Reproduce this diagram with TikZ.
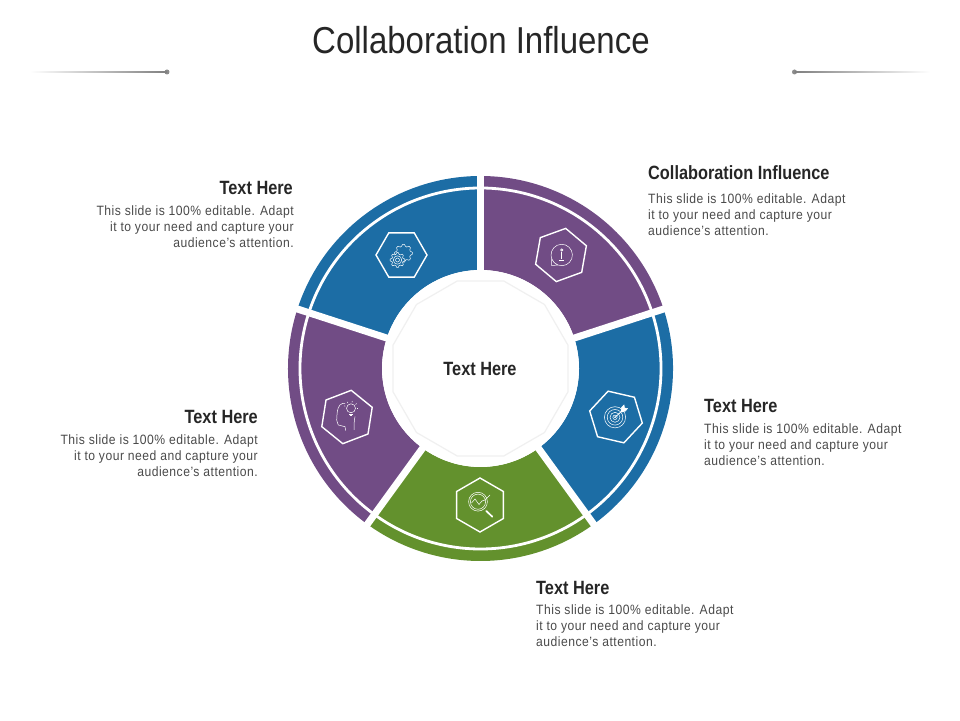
\documentclass[tikz,border=0pt]{standalone}
\usepackage{fontspec}
\setmainfont{Liberation Sans}
\usetikzlibrary{calc}
\usetikzlibrary{shapes.geometric}
\definecolor{bluewedge}{HTML}{1C6DA5}
\definecolor{purplewedge}{HTML}{714C85}
\definecolor{greenwedge}{HTML}{63912D}
\definecolor{inktext}{HTML}{262626}
\definecolor{bodytext}{HTML}{4A4A4A}
\newfontfamily\titlefont[FakeStretch=0.88]{Liberation Sans}
\newfontfamily\narrowfont[FakeStretch=0.85]{Liberation Sans}
\newfontfamily\bodyfont[FakeStretch=0.9,LetterSpace=3.6]{Liberation Sans}
\newcommand{\bodylines}{This slide is 100\% editable. Adapt\\it to your need and capture your\\audience’s attention.}
% one ring segment: start angle, end angle, colour
\newcommand{\ringpart}[3]{%
  \fill[#3] (#1:98.5) arc (#1:#2:98.5) -- (#2:192.5) arc (#2:#1:192.5) -- cycle;
  \draw[white,line width=2.8pt] (#1:180.5) arc (#1:#2:180.5);
}
% gear outline: centre, radius, colour behind it
\newcommand{\gearpart}[3]{%
  \draw[fill=#3,shift={(#1)}] plot[samples=65,domain=0:360] ({\x}:{#2+0.9*sign(cos(8*\x))}) -- cycle;
}
\begin{document}
\begin{tikzpicture}[x=1pt,y=1pt,
    headtext/.style={font=\narrowfont\bfseries\fontsize{19.2}{22}\selectfont,text=inktext,inner sep=0pt},
    bodyleft/.style={font=\bodyfont\fontsize{13.5}{16}\selectfont,text=bodytext,align=left,inner sep=0pt,anchor=north west},
    bodyright/.style={font=\bodyfont\fontsize{13.5}{16}\selectfont,text=bodytext,align=right,inner sep=0pt,anchor=north east},
    hexa/.style={regular polygon,regular polygon sides=6,draw=white,line width=1.4pt,minimum size=54pt,inner sep=0pt},
    iconline/.style={draw=white,line width=.5pt},
    gapline/.style={draw=white,line width=7pt},
    enddot/.style={circle,fill=gray!90,inner sep=0pt,minimum size=5pt}]
  \useasboundingbox (0,0) rectangle (960,720);
  \coordinate (center) at (480.5,351.5);

  % ring
  \begin{scope}[shift={(center)}]
    \ringpart{18}{90}{purplewedge}
    \ringpart{-54}{18}{bluewedge}
    \ringpart{-126}{-54}{greenwedge}
    \ringpart{162}{234}{purplewedge}
    \ringpart{90}{162}{bluewedge}
    \foreach \ang in {18,90,162,234,306} {
      \coordinate (rim\ang) at (\ang:200);
      \draw[gapline] (0,0) -- (rim\ang);
    }
    \fill[white] (0,0) circle (98.5);
  \end{scope}
  \node[regular polygon,regular polygon sides=12,draw=black!6,line width=1.2pt,fill=white,minimum size=181pt,inner sep=0pt] (hub) at (center) {};
  \node[headtext] (hubtext) at (480,351.5) {Text Here};

  % hexagons
  \node[hexa,minimum size=51pt] (hexa1) at (401.5,465) {};
  \node[hexa,shape border rotate=20] (hexa2) at (561,465) {};
  \node[hexa,shape border rotate=-13] (hexa3) at (616,303) {};
  \node[hexa,shape border rotate=30] (hexa4) at (480,215) {};
  \node[hexa,shape border rotate=21] (hexa5) at (347,303) {};

  % gears
  \begin{scope}[shift={(hexa1.center)},iconline]
    \gearpart{2,1.7}{8}{bluewedge}
    \gearpart{-4,-5}{6.6}{bluewedge}
    \draw (-4,-5) circle (4.2);
    \draw (-4,-5) circle (2);
  \end{scope}

  % speech bubble
  \begin{scope}[shift={(hexa2.center)},iconline]
    \draw (0.7,0) ++(250:10.7) arc (250:-160:10.7) -- (-9.3,-10.5) -- cycle;
    \draw[line width=.7pt] (0.7,5) circle (1.1);
    \draw[line width=1.3pt] (0.7,2.5) -- (0.7,-4.5);
    \draw[line width=.7pt] (-1.8,-5.2) -- (3.2,-5.2);
  \end{scope}

  % target
  \begin{scope}[shift={(hexa3.center)},iconline]
    \foreach \rad in {2.2,5,7.8,10.6} {
      \draw (-1,-0.3) circle (\rad);
    }
    \fill[white] (-1,-0.3) circle (0.9);
    \draw[line width=.8pt] (-1,-0.3) -- (6,6);
    \draw[fill=white] (5,6) -- (5.5,9.5) -- (8,12) -- (8.5,9) -- (11.5,8.5) -- (9.5,6) -- (6,5) -- cycle;
  \end{scope}

  % magnifier
  \begin{scope}[shift={(hexa4.center)},iconline]
    \draw (-2,3.3) circle (9.4);
    \draw (-2,3.3) circle (7.6);
    \draw (-8.5,2) -- (-5,6) -- (-1,0.5) -- (2,4) -- (5,5) -- (10,10);
    \draw[line width=1.7pt,line cap=round] (6.3,-6) -- (12.3,-11.7);
  \end{scope}

  % head with bulb
  \begin{scope}[shift={(hexa5.center)},iconline]
    \draw (-1.3,-13.7) -- (-2,-9.7) -- (-8.7,-8) .. controls (-9,-5) and (-11,-4) .. (-10.3,-3) .. controls (-10,3) and (-10,9) .. (-7,12) .. controls (-5.5,13.5) and (-3.5,14) .. (-2,13.7);
    \draw (8,0.3) .. controls (7,-4) and (7,-9) .. (7,-13);
    \draw (4,8.7) circle (4.5);
    \draw[line width=1pt] (2,2.8) -- (6,2.8) (2.6,1) -- (5.4,1);
    \foreach \ang in {0,40,...,180} {
      \draw ($(4,8.7)+(\ang:6)$) -- ($(4,8.7)+(\ang:7.4)$);
    }
  \end{scope}

  % title and rules
  \node[font=\titlefont\fontsize{37.5}{42}\selectfont,text=inktext,inner sep=0pt] (title) at (481,680) {Collaboration Influence};
  \node[enddot] (dotleft) at (167,648) {};
  \node[enddot] (dotright) at (794.5,648) {};
  \coordinate (fadeleft) at (30,647.75);
  \coordinate (faderight) at (930,648.25);
  \shade[left color=white,right color=gray] (fadeleft) rectangle (dotleft.center |- 0,648.25);
  \shade[left color=gray,right color=white] (dotright.center |- 0,647.75) rectangle (faderight);

  % captions
  \node[headtext,anchor=base west] (head1) at (648,540.5) {Collaboration Influence};
  \node[bodyleft] (body1) at (648,526.5) {\bodylines};
  \node[headtext,anchor=base west] (head2) at (704,307.5) {Text Here};
  \node[bodyleft] (body2) at (704,296.5) {\bodylines};
  \node[headtext,anchor=base west] (head3) at (536,126) {Text Here};
  \node[bodyleft] (body3) at (536,115.5) {\bodylines};
  \node[headtext,anchor=base east] (head4) at (258,296.5) {Text Here};
  \node[bodyright] (body4) at (258,285.5) {\bodylines};
  \node[headtext,anchor=base east] (head5) at (293,525) {Text Here};
  \node[bodyright] (body5) at (294,514.5) {\bodylines};
\end{tikzpicture}
\end{document}
